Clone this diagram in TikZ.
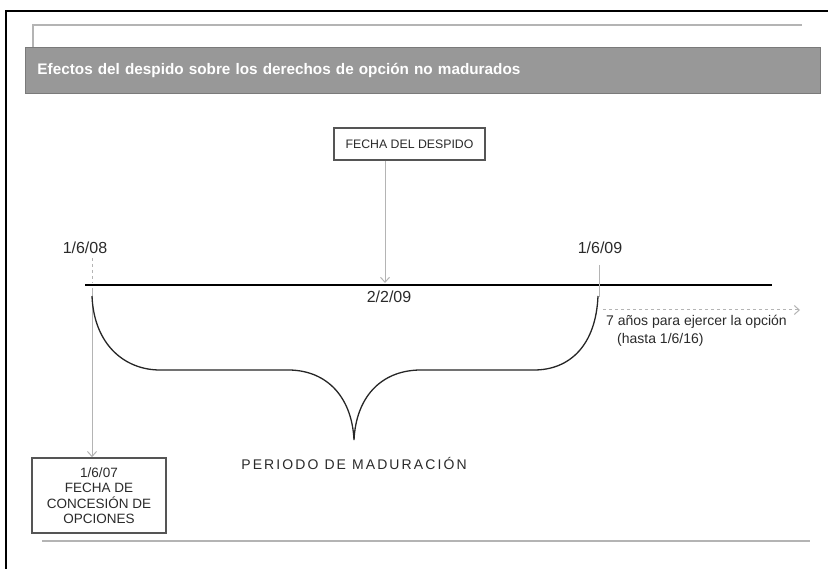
\documentclass[tikz,border=0pt]{standalone}
\usepackage{fontspec}
\setmainfont{Liberation Sans}
\usetikzlibrary{arrows.meta}
\definecolor{lgray}{HTML}{B4B4B4}
\definecolor{bannerfill}{HTML}{989898}
\definecolor{bannerdraw}{HTML}{7A7A7A}
\definecolor{boxdraw}{HTML}{555555}
\definecolor{txt}{HTML}{2A2A2A}
\begin{document}
\begin{tikzpicture}[x=1pt,y=-1pt,
  thinline/.style={draw=lgray,line width=1.5pt},
  grayarrow/.style={draw=lgray,line width=1pt,-{Straight Barb[length=5pt,width=9pt]}},
  labelbox/.style={draw=boxdraw,line width=1.6pt,fill=white,text=txt,align=center,inner sep=2pt},
  datelabel/.style={text=txt,font=\fontsize{16}{18}\selectfont,inner sep=0pt},
  smalltext/.style={text=txt,font=\fontsize{14}{17}\selectfont,inner sep=0pt}]
\useasboundingbox (0,0) rectangle (828,569);
% frame
\draw[line width=2pt] (6,569) -- (6,11) -- (828,11);
\draw[thinline] (33,48) -- (33,25) -- (802,25);
% banner
\node[anchor=north west,fill=bannerfill,draw=bannerdraw,line width=1pt,
      minimum width=795pt,minimum height=46pt,text width=771pt,inner xsep=12pt,
      align=left,text=white,font=\bfseries\fontsize{15.3}{18}\selectfont] (banner) at (25,47)
  {Efectos del despido sobre los derechos de opción no madurados};
% boxes
\node[labelbox,minimum width=151pt,minimum height=32pt,font=\fontsize{12.3}{15}\selectfont] (despido) at (409.5,144) {FECHA DEL DESPIDO};
\node[labelbox,minimum width=134pt,minimum height=75pt,font=\fontsize{13.5}{15.5}\selectfont] (conc) at (99,495.5)
  {1/6/07\\FECHA DE\\CONCESIÓN DE\\OPCIONES};
% timeline
\coordinate (tl) at (85,285);
\coordinate (tr) at (772,285);
\draw[line width=2.8pt] (tl) -- (tr);
% dates
\node[datelabel] (d08) at (85,248) {1/6/08};
\node[datelabel] (d09) at (600,248) {1/6/09};
\node[datelabel] (d0202) at (389,297) {2/2/09};
% despido arrow
\coordinate (dbot) at (385,283);
\draw[grayarrow] (despido.south -| dbot) -- (dbot);
% left date marks
\coordinate (m08top) at (92,258);
\coordinate (m08bot) at (92,283);
\draw[draw=lgray,line width=1pt,dashed] (m08top) -- (m08bot);
\coordinate (m08a) at (92,288);
\draw[grayarrow] (m08a) -- (conc.north -| m08a);
% right date marks
\coordinate (m09top) at (599,265);
\coordinate (m09bot) at (599,297);
\draw[draw=lgray,line width=1pt] (m09top) -- (m09bot);
\coordinate (ea) at (603,310);
\coordinate (eb) at (800,310);
\draw[grayarrow,dashed] (ea) -- (eb);
\node[smalltext,anchor=west] (ejer) at (606,322) {7 años para ejercer la opción};
\node[smalltext,anchor=west] (hasta) at (617,340) {(hasta 1/6/16)};
% brace
\draw[line width=1.3pt,black!85] (92,296) .. controls (94,345) and (125,370) .. (160,370)
  -- (290,370) .. controls (328,371) and (352,398) .. (354,440)
  .. controls (356,398) and (380,371) .. (419,370)
  -- (534,370) .. controls (570,370) and (596,345) .. (598,296);
\node[smalltext,font=\fontsize{14}{17}\selectfont\addfontfeature{LetterSpace=15}] (periodo) at (354,463) {PERIODO DE MADURACIÓN};
% bottom line
\draw[thinline] (42,541) -- (810,541);
\end{tikzpicture}
\end{document}
